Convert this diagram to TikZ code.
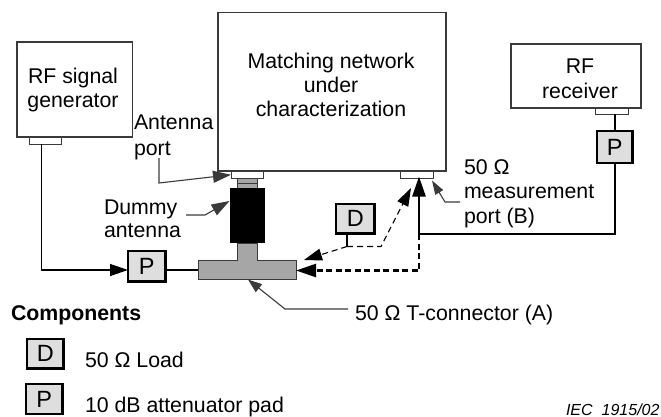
\documentclass[tikz,border=0pt]{standalone}
\usepackage{fontspec}
\setmainfont{Liberation Sans}
\usetikzlibrary{arrows.meta}
\definecolor{padgray}{HTML}{DEDEDE}
\definecolor{tgray}{HTML}{A6A6A6}
\definecolor{edge}{HTML}{3A3A3A}
\newcommand{\pxbox}[7][]{%
  \pgfmathsetmacro{\cxx}{(#3+#5)/2}\pgfmathsetmacro{\cyy}{(#4+#6)/2}%
  \pgfmathsetmacro{\wxx}{#5-#3}\pgfmathsetmacro{\hyy}{#6-#4}%
  \node[#1,minimum width=\wxx pt,minimum height=\hyy pt] (#2) at (\cxx,\cyy) {#7};}
\tikzset{
  x=1pt,y=-1pt,
  every node/.style={inner sep=0pt,outer sep=0pt,font=\fontsize{21.3}{25}\selectfont},
  plainbox/.style={draw=edge,line width=1.1pt,fill=white},
  portbox/.style={draw=edge,line width=0.9pt,fill=white},
  padbox/.style={draw=black,line width=2.4pt,fill=padgray,font=\fontsize{23.5}{25}\selectfont},
  lab/.style={anchor=base west},
  clab/.style={anchor=base},
  thinline/.style={draw=edge,line width=1.1pt},
  wire/.style={draw=black,line width=1.3pt},
  thickwire/.style={draw=black,line width=2.6pt},
  bighead/.style={-{Triangle[length=20pt,width=13pt]}},
  midhead/.style={-{Triangle[length=18pt,width=12pt]}},
  dashthin/.style={draw=black,line width=1.1pt,dash pattern=on 6pt off 4pt},
  dashthick/.style={draw=black,line width=2.4pt,dash pattern=on 6pt off 3.5pt},
}
\begin{document}
\begin{tikzpicture}
\useasboundingbox (0,0) rectangle (661,417);
% main boxes
\pxbox[plainbox]{gen}{17}{42}{132.5}{137}{}
\pxbox[portbox]{genport}{29}{137.5}{61}{144}{}
\pxbox[plainbox]{net}{218}{12.5}{446}{171}{}
\pxbox[portbox]{antport}{231}{171.5}{263.5}{178}{}
\pxbox[portbox]{measport}{400}{171.5}{433.5}{178}{}
\pxbox[plainbox]{rec}{511}{44}{641}{108}{}
\pxbox[portbox]{recport}{595}{108.5}{628}{114}{}
% dummy antenna and T connector
\pxbox[draw=edge,line width=1pt,fill=tgray]{conn}{237}{178}{257}{188}{}
\draw[edge,line width=1.6pt] (237,178.6) -- (257,178.6);
\draw[edge,line width=.8pt] (237,183.5) -- (257,183.5);
\pxbox[fill=black]{dummy}{229.5}{188}{265}{243}{}
\draw[draw=edge,line width=1pt,fill=tgray]
  (237,243) -- (257,243) -- (257,260) -- (296,260) -- (296,279)
  -- (198,279) -- (198,260) -- (237,260) -- cycle;
\coordinate (tw) at (198,270);
\coordinate (te) at (296,270.5);
\coordinate (tb) at (248,279.5);
\coordinate (tr) at (304,260);
% pads
\pxbox[padbox]{p1}{128}{251}{165.5}{281.5}{P}
\pxbox[padbox]{p2}{597}{131}{632.5}{163}{P}
\pxbox[padbox]{d1}{336}{204}{374.5}{233.5}{D}
\pxbox[padbox]{ld}{27}{339}{63.5}{368.5}{D}
\pxbox[padbox]{lp}{26}{384}{62.5}{414}{P}
\draw[line width=1.5pt] (p1.south west) ++(0,.6) -- ++(37.5,0);
\draw[line width=1.5pt] (p2.south west) ++(0,.6) -- ++(35.5,0);
% wires
\coordinate (gb) at (41.5,144);
\coordinate (gc) at (41.5,270);
\draw[wire,midhead] (gb) -- (gc) -- (p1.west |- gc);
\draw[thickwire] (p1.east |- tw) -- (tw);
\coordinate (rb) at (615,114);
\coordinate (rp) at (615,130);
\coordinate (rq) at (615,163);
\coordinate (rj) at (615,234);
\coordinate (bj) at (419,234);
\coordinate (bt) at (419,176.5);
\coordinate (bc) at (419,270.5);
\draw[wire] (rb) -- (rp);
\draw[thickwire] (rq) -- (rj) -- (bj);
\draw[thickwire,bighead] (bj) -- (bt);
\draw[dashthick,bighead] (bj) -- (bc) -- (te);
% thin dashed link of the load
\coordinate (dj) at (347,246.5);
\coordinate (dk) at (381,246.5);
\coordinate (dt) at (411,188);
\draw[wire] (347,234) -- (dj);
\draw[dashthin,midhead] (dj) -- (tr);
\draw[dashthin,midhead] (dj) -- (dk) -- (dt);
% leaders
\coordinate (a1) at (159,158);
\coordinate (a2) at (159,183);
\draw[thinline,midhead] (a1) -- (a2) -- (antport.west);
\coordinate (b1) at (186,215);
\coordinate (b2) at (205,215);
\coordinate (b3) at (229.5,201);
\draw[thinline,midhead] (b1) -- (b2) -- (b3);
\coordinate (c1) at (460,202);
\coordinate (c2) at (445,202);
\coordinate (c3) at (432,180.5);
\draw[thinline,-{Triangle[length=14pt,width=9pt]}] (c1) -- (c2) -- (c3);
\coordinate (e1) at (348,309);
\coordinate (e2) at (285,309);
\draw[thinline,-{Triangle[length=14pt,width=10pt]}] (e1) -- (e2) -- (tb);
% labels
\node[clab] (t1) at (73,84) {RF signal};
\node[clab] (t2) at (73,108) {generator};
\node[clab] (t3) at (331,69) {Matching network};
\node[clab] (t4) at (331,93) {under};
\node[clab] (t5) at (331,117) {characterization};
\node[clab] (t6) at (580,74) {RF};
\node[clab] (t7) at (580,99) {receiver};
\node[lab] (t8) at (134,130) {Antenna};
\node[lab] (t9) at (134,155) {port};
\node[lab] (t10) at (104,214) {Dummy};
\node[lab] (t11) at (104,237) {antenna};
\node[lab] (t12) at (464,174) {50 Ω};
\node[lab] (t13) at (464,198) {measurement};
\node[lab] (t14) at (464,223) {port (B)};
\node[lab] (t15) at (355,320) {50 Ω T-connector (A)};
\node[lab,font=\fontsize{21.3}{25}\selectfont\bfseries] (t16) at (11,320) {Components};
\node[lab] (t17) at (85,367) {50 Ω Load};
\node[lab] (t18) at (85,412) {10 dB attenuator pad};
\node[lab,font=\fontsize{16}{18}\selectfont\itshape] (t19) at (566,415) {IEC\hspace{9pt}1915/02};
\end{tikzpicture}
\end{document}
